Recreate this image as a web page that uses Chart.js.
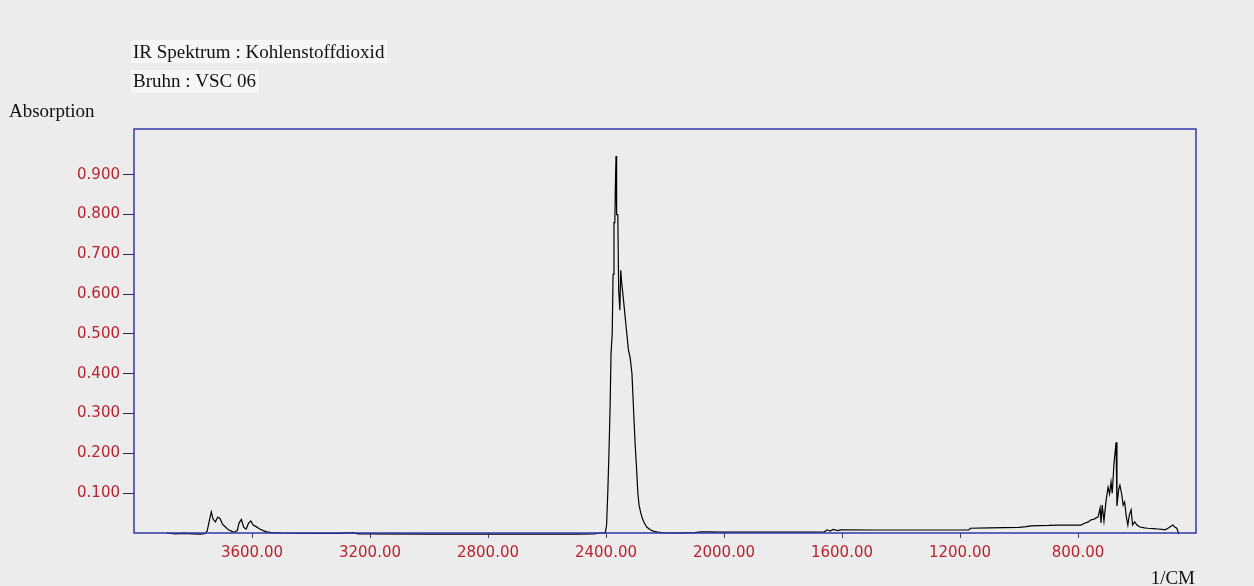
<!DOCTYPE html>
<html>
<head>
<meta charset="utf-8">
<script src="https://cdn.jsdelivr.net/npm/chart.js@4"></script>
<style>
  html, body { margin: 0; padding: 0; background: #ececec; }
  canvas { display: block; }
</style>
</head>
<body>
<canvas id="graph" width="1254" height="586"></canvas>
<script>
// Spektrum: Wellenzahl (1/cm) und Absorption
const wellenzahl = [
  3890, 3860, 3830, 3800, 3775, 3760, 3752, 3745, 3738, 3732, 3724, 3716, 3708, 3700, 3690, 3680,
  3668, 3660, 3650, 3644, 3636, 3628, 3620, 3612, 3604, 3596, 3586, 3574, 3562, 3550, 3535, 3500,
  3400, 3300, 3260, 3240, 3200, 3000, 2800, 2600, 2500, 2440, 2420, 2410, 2402, 2398, 2394, 2390,
  2386, 2383, 2379, 2376, 2373, 2370, 2368, 2366, 2364, 2360, 2357, 2353, 2350, 2347, 2344, 2340,
  2336, 2332, 2328, 2324, 2318, 2312, 2306, 2301, 2297, 2292, 2288, 2282, 2276, 2270, 2262, 2250,
  2238, 2225, 2200, 2150, 2100, 2078, 2050, 2010, 1900, 1800, 1700, 1660, 1650, 1640, 1630, 1615,
  1605, 1500, 1400, 1300, 1170, 1165, 1100, 1000, 975, 960, 900, 870, 800, 790, 776, 765,
  756, 745, 739, 732, 725, 722, 718, 712, 705, 698, 693, 688, 684, 678, 671, 668,
  662, 658, 652, 647, 642, 636, 631, 626, 620, 615, 608, 600, 590, 575, 563, 545,
  529, 515, 505, 495, 485, 478, 472, 465, 458
];
const absorption = [
  0.000, -0.002, -0.001, -0.002, -0.003, -0.002, 0.005, 0.030, 0.053, 0.035, 0.028, 0.040, 0.036, 0.022, 0.015, 0.008,
  0.004, 0.002, 0.006, 0.025, 0.034, 0.014, 0.010, 0.024, 0.030, 0.020, 0.016, 0.010, 0.006, 0.003, 0.001, 0.000,
  -0.001, -0.001, 0.001, -0.002, -0.002, -0.003, -0.003, -0.003, -0.003, -0.002, 0.000, 0.000, 0.002, 0.020, 0.100, 0.200,
  0.320, 0.450, 0.500, 0.650, 0.780, 0.780, 0.880, 0.947, 0.800, 0.800, 0.610, 0.560, 0.660, 0.630, 0.610, 0.580,
  0.550, 0.520, 0.490, 0.460, 0.440, 0.400, 0.300, 0.220, 0.170, 0.100, 0.070, 0.050, 0.035, 0.025, 0.015, 0.008,
  0.004, 0.002, 0.000, 0.000, 0.001, 0.003, 0.003, 0.002, 0.002, 0.002, 0.002, 0.003, 0.008, 0.005, 0.009, 0.006,
  0.008, 0.0075, 0.0075, 0.0075, 0.008, 0.012, 0.013, 0.014, 0.016, 0.018, 0.019, 0.020, 0.020, 0.020, 0.025, 0.028,
  0.033, 0.035, 0.038, 0.040, 0.063, 0.025, 0.070, 0.030, 0.080, 0.115, 0.098, 0.128, 0.100, 0.175, 0.228, 0.068,
  0.110, 0.120, 0.098, 0.070, 0.078, 0.040, 0.020, 0.045, 0.058, 0.020, 0.028, 0.020, 0.015, 0.013, 0.012, 0.011,
  0.010, 0.009, 0.008, 0.012, 0.017, 0.020, 0.015, 0.012, -0.003
];

// Achsenbeschriftung
const xTicks = [3600, 3200, 2800, 2400, 2000, 1600, 1200, 800];
const yTicks = [0.1, 0.2, 0.3, 0.4, 0.5, 0.6, 0.7, 0.8, 0.9];

const titel = 'IR Spektrum : Kohlenstoffdioxid';
const untertitel = 'Bruhn : VSC 06';
const yTitel = 'Absorption';
const xTitel = '1/CM';

const punkte = wellenzahl.map((w, i) => ({ x: w, y: absorption[i] }));

const tickFarbe = '#b8232f';
const rahmenFarbe = '#3636a8';
const schrift = { family: 'DejaVu Sans', size: 15 };

// Hintergrund, Texte und Rahmen
const deko = {
  id: 'deko',
  beforeDraw(chart) {
    const c = chart.ctx;
    c.save();
    c.fillStyle = '#ececec';
    c.fillRect(0, 0, chart.width, chart.height);
    c.font = '19px "Liberation Serif"';
    c.textBaseline = 'alphabetic';
    c.fillStyle = '#f6f6f6';
    c.fillRect(131, 40, c.measureText(titel).width + 5, 23);
    c.fillRect(131, 70, c.measureText(untertitel).width + 5, 23);
    c.fillStyle = '#111';
    c.fillText(titel, 133, 58);
    c.fillText(untertitel, 133, 87);
    c.fillText(yTitel, 9, 117);
    c.textAlign = 'right';
    c.fillText(xTitel, 1195, 584);
    c.restore();
  },
  afterDatasetsDraw(chart) {
    const a = chart.chartArea;
    const c = chart.ctx;
    c.save();
    c.strokeStyle = rahmenFarbe;
    c.lineWidth = 1.5;
    c.strokeRect(a.left, a.top, a.right - a.left, a.bottom - a.top);
    c.restore();
  }
};

const ctx = document.getElementById('graph').getContext('2d');
const chart = new Chart(ctx, {
  type: 'line',
  data: {
    datasets: [{
      label: 'Absorption',
      data: punkte,
      borderColor: '#000',
      borderWidth: 1.2,
      pointRadius: 0,
      tension: 0,
      clip: 4
    }]
  },
  options: {
    responsive: false,
    animation: false,
    devicePixelRatio: 1,
    layout: { padding: { top: 129, right: 58, left: 0, bottom: 0 } },
    plugins: { legend: { display: false }, tooltip: { enabled: false } },
    scales: {
      x: {
        type: 'linear',
        reverse: true,
        min: 400,
        max: 4000,
        afterBuildTicks: s => { s.ticks = xTicks.map(v => ({ value: v })); },
        afterFit: s => { s.height = 53; },
        ticks: {
          color: tickFarbe,
          font: schrift,
          padding: 6,
          autoSkip: false,
          maxRotation: 0,
          callback: v => Number(v).toFixed(2)
        },
        grid: { drawOnChartArea: false, tickLength: 5, color: '#4a3a7a' },
        border: { display: false }
      },
      y: {
        min: 0,
        max: 1.015,
        afterBuildTicks: s => { s.ticks = yTicks.map(v => ({ value: v })); },
        afterFit: s => { s.width = 134; },
        ticks: {
          color: tickFarbe,
          font: schrift,
          padding: 3,
          callback: v => Number(v).toFixed(3)
        },
        grid: { drawOnChartArea: false, tickLength: 11, color: '#2a2a55' },
        border: { display: false }
      }
    }
  },
  plugins: [deko]
});
</script>
</body>
</html>
